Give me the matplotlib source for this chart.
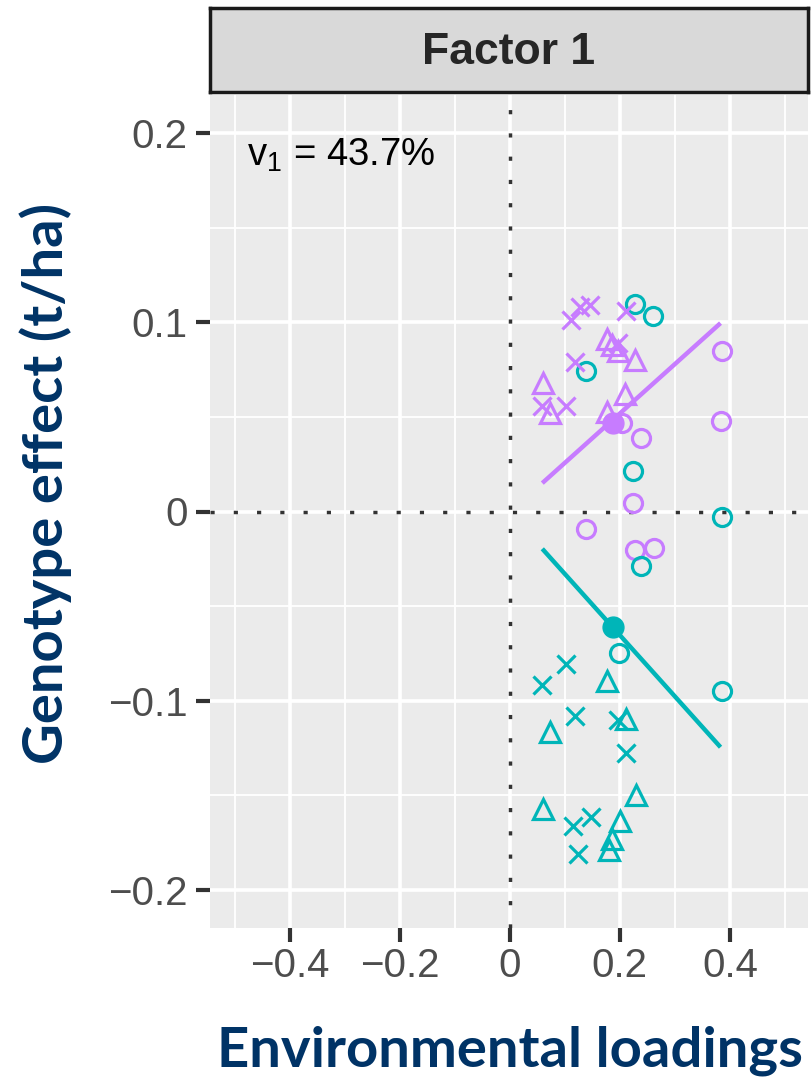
import numpy as np
import matplotlib.pyplot as plt

# loadings (x) and genotype effects (y) per group and marker shape
purple_cross_x = [0.112, 0.127, 0.145, 0.212, 0.118, 0.058, 0.103, 0.197]
purple_cross_y = [0.101, 0.108, 0.109, 0.106, 0.079, 0.0555, 0.0555, 0.089]
purple_tri_x = [0.060, 0.073, 0.176, 0.185, 0.197, 0.227, 0.209, 0.176]
purple_tri_y = [0.068, 0.052, 0.091, 0.088, 0.085, 0.080, 0.062, 0.0525]
purple_circ_x = [0.385, 0.383, 0.203, 0.239, 0.224, 0.139, 0.227, 0.262]
purple_circ_y = [0.0847, 0.0477, 0.0467, 0.039, 0.0044, -0.009, -0.0206, -0.0192]

teal_cross_x = [0.103, 0.058, 0.118, 0.197, 0.212, 0.114, 0.147, 0.124]
teal_cross_y = [-0.0805, -0.0914, -0.1078, -0.110, -0.1277, -0.166, -0.1615, -0.181]
teal_tri_x = [0.176, 0.073, 0.211, 0.061, 0.230, 0.200, 0.185, 0.181]
teal_tri_y = [-0.0893, -0.1166, -0.1095, -0.157, -0.150, -0.1636, -0.173, -0.179]
teal_circ_x = [0.227, 0.261, 0.139, 0.224, 0.385, 0.239, 0.199, 0.385]
teal_circ_y = [0.1097, 0.1035, 0.074, 0.0213, -0.003, -0.029, -0.0748, -0.095]

# group means and fitted lines
mean_x = [0.187, 0.187]
mean_y = [0.047, -0.061]
line_x = [0.059, 0.383]
purple_line_y = [0.015, 0.0995]
teal_line_y = [-0.0197, -0.1245]

x_ticks = [-0.4, -0.2, 0, 0.2, 0.4]
x_labels = ["\u22120.4", "\u22120.2", "0", "0.2", "0.4"]
y_ticks = [-0.2, -0.1, 0, 0.1, 0.2]
y_labels = ["\u22120.2", "\u22120.1", "0", "0.1", "0.2"]

purple = "#C77CFF"
teal = "#00B5B8"
navy = "#003366"

plt.rcParams['font.family'] = ['Liberation Sans', 'DejaVu Sans']

fig = plt.figure(figsize=(8.12, 10.81), dpi=100)
ax = fig.add_axes([210/812, 1-928/1081, 598/812, 833/1081])
ax.set_facecolor("#EBEBEB")
ax.set_xlim(-0.545, 0.542)
ax.set_ylim(-0.22, 0.22)

ax.set_xticks(x_ticks)
ax.set_xticklabels(x_labels)
ax.set_yticks(y_ticks)
ax.set_yticklabels(y_labels)
ax.set_xticks([-0.5, -0.3, -0.1, 0.1, 0.3, 0.5], minor=True)
ax.set_yticks([-0.15, -0.05, 0.05, 0.15], minor=True)
ax.grid(which="major", color="white", lw=2.6)
ax.grid(which="minor", color="white", lw=1.3)
ax.set_axisbelow(True)
ax.tick_params(which="major", length=10, width=3, color="#333333",
               labelsize=29, labelcolor="#4D4D4D")
ax.tick_params(axis="x", pad=4)
ax.tick_params(axis="y", pad=6)
ax.tick_params(which="minor", length=0)
for s in ax.spines.values():
    s.set_visible(False)

ax.axvline(0, color="#333333", lw=2.5, ls=(0, (1.2, 5.5)), zorder=1.5)
ax.axhline(0, color="#333333", lw=2.5, ls=(0, (1.2, 5.5)), zorder=1.5)

mk = dict(ls="none", mfc="none", mew=2.3)
ax.plot(purple_circ_x, purple_circ_y, marker="o", mec=purple, ms=13, **mk)
ax.plot(teal_circ_x, teal_circ_y, marker="o", mec=teal, ms=13, **mk)
ax.plot(purple_tri_x, purple_tri_y, marker="^", mec=purple, ms=15, **mk)
ax.plot(teal_tri_x, teal_tri_y, marker="^", mec=teal, ms=15, **mk)
ax.plot(purple_cross_x, purple_cross_y, marker="x", color=purple, ls="none", ms=13, mew=2.3)
ax.plot(teal_cross_x, teal_cross_y, marker="x", color=teal, ls="none", ms=13, mew=2.3)

ax.plot(line_x, purple_line_y, color=purple, lw=3.2, solid_capstyle="butt")
ax.plot(line_x, teal_line_y, color=teal, lw=3.2, solid_capstyle="butt")
ax.plot(mean_x[0], mean_y[0], "o", color=purple, ms=15)
ax.plot(mean_x[1], mean_y[1], "o", color=teal, ms=15)

ax.text(-0.478, 0.188, r"v$_\mathregular{1}$ = 43.7%", fontsize=27.5,
        color="black", va="center", ha="left")

# facet strip
strip = fig.add_axes([210/812, 1-92/1081, 598/812, 84/1081])
strip.set_xticks([])
strip.set_yticks([])
strip.set_facecolor("#D9D9D9")
for s in strip.spines.values():
    s.set_linewidth(2.5)
    s.set_color("#1A1A1A")
strip.text(0.5, 0.47, "Factor 1", fontsize=32, fontweight="bold",
           color="#262626", ha="center", va="center", transform=strip.transAxes)

fig.text(63/812, 1-483/1081, "Genotype effect (t/ha)", rotation=90,
         rotation_mode="anchor", fontsize=40.5, fontweight="bold", color=navy,
         family="Lato", ha="center", va="baseline")
fig.text(510/812, 1-1067/1081, "Environmental loadings", fontsize=40.5,
         fontweight="bold", color=navy, family="Lato",
         ha="center", va="baseline")

fig.savefig("out.png", dpi=100)
